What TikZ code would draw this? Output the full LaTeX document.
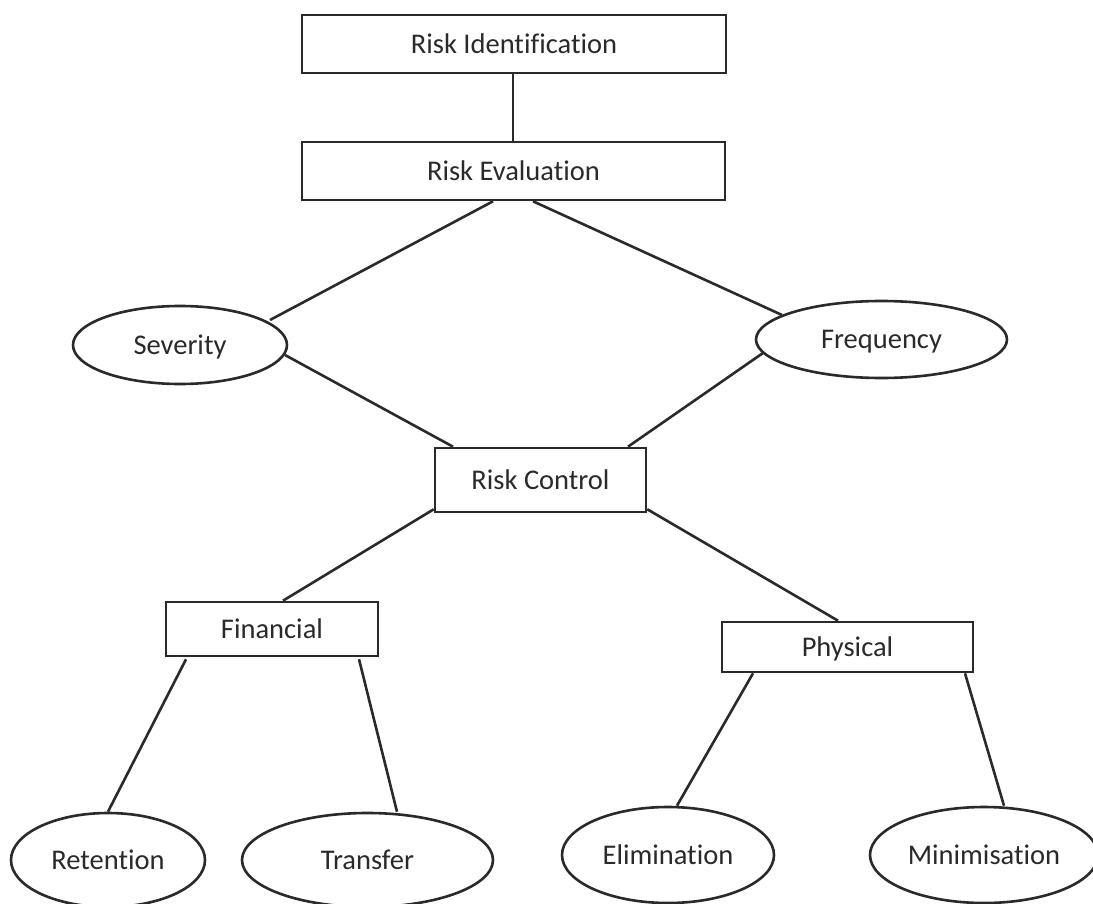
\documentclass[tikz,border=0pt]{standalone}
\usepackage{fontspec}
\setmainfont{Carlito}[RawFeature={-liga;-clig}]
\usetikzlibrary{shapes.geometric,calc}
\definecolor{ink}{HTML}{2A2A2A}
\tikzset{
  base/.style={draw=ink, line width=2.6pt, text=ink, inner sep=0pt,
    text height=18.5pt, text depth=0pt,
    font=\fontsize{28.5}{34}\selectfont},
  boxnode/.style={base, rectangle},
  ovalnode/.style={base, ellipse},
  link/.style={draw=ink, line width=2.6pt}
}
\begin{document}
\begin{tikzpicture}[x=1pt,y=-1pt]
\useasboundingbox (0,0) rectangle (1093,904);
\fill[white] (0,0) rectangle (1093,904);

\node[boxnode, minimum width=424pt, minimum height=58pt] (RI) at (514,44) {Risk Identification};
\node[boxnode, minimum width=423pt, minimum height=58pt] (RE) at (513.5,171) {Risk Evaluation};
\node[ovalnode, minimum width=214pt, minimum height=78pt] (Sev) at (180,345) {Severity};
\node[ovalnode, minimum width=251pt, minimum height=77pt] (Freq) at (881.5,339.5) {Frequency};
\node[boxnode, minimum width=211pt, minimum height=64pt] (RC) at (540.5,480) {Risk Control};
\node[boxnode, minimum width=212pt, minimum height=54pt] (Fin) at (272,629) {Financial\hspace{12pt}};
\node[boxnode, minimum width=251pt, minimum height=50pt] (Phy) at (847.5,647) {Physical};
\node[ovalnode, minimum width=194pt, minimum height=94pt] (Ret) at (108,860) {Retention};
\node[ovalnode, minimum width=251pt, minimum height=94pt] (Tra) at (367.5,860) {Transfer};
\node[ovalnode, minimum width=212pt, minimum height=96pt] (Eli) at (668,855) {Elimination};
\node[ovalnode, minimum width=228pt, minimum height=96pt] (Min) at (984,855) {Minimisation};

\draw[link] ($(RI.south)+(-1,0)$) -- ($(RE.north)+(-0.5,0)$);
\draw[link] ($(RE.south)+(-20.5,0)$) -- ($(Sev.center)+(90,-25)$);
\draw[link] ($(RE.south)+(19.5,0)$) -- ($(Freq.center)+(-99.5,-24.5)$);
\draw[link] ($(Sev.center)+(105,10)$) -- ($(RC.north)+(-87.5,0)$);
\draw[link] ($(Freq.center)+(-118.5,13.5)$) -- ($(RC.north)+(87.5,0)$);
\draw[link] ($(RC.south west)+(0,-4)$) -- ($(Fin.north)+(11,0)$);
\draw[link] ($(RC.south east)+(0,-4)$) -- ($(Phy.north)+(-9.5,0)$);
\draw[link] ($(Fin.south)+(-86,2)$) -- ($(Ret.north)+(0,0)$);
\draw[link] ($(Fin.south)+(87,2)$) -- ($(Tra.north)+(29.5,0)$);
\draw[link] ($(Phy.south)+(-94.5,0)$) -- ($(Eli.north)+(9,0)$);
\draw[link] ($(Phy.south)+(117.5,0)$) -- ($(Min.north)+(20,0)$);
\end{tikzpicture}
\end{document}
